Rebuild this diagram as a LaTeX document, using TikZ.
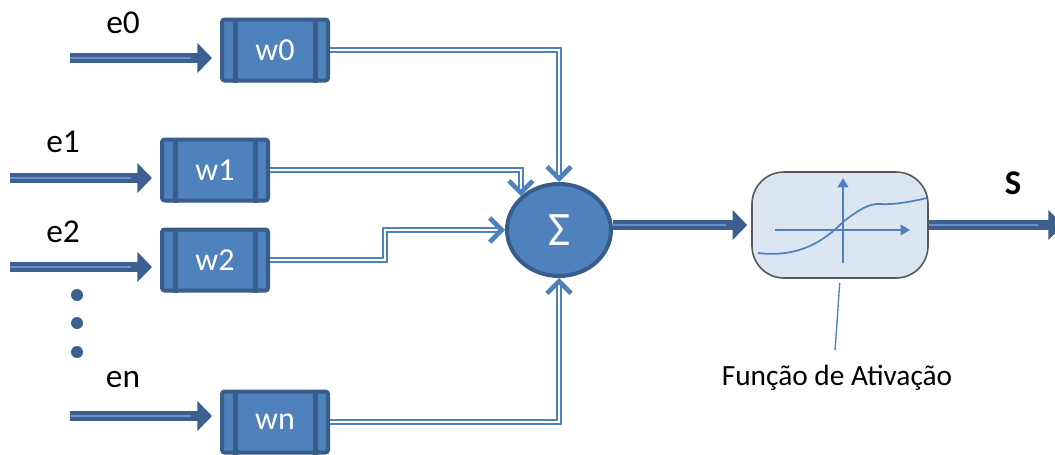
\documentclass[tikz,border=0pt]{standalone}
\usepackage{fontspec}
\setmainfont{Carlito}
\usetikzlibrary{shapes.geometric,arrows.meta,positioning}
\definecolor{boxfill}{HTML}{4F81BD}
\definecolor{boxline}{HTML}{385D8A}
\definecolor{arrowline}{HTML}{3B5F8E}
\definecolor{innerline}{HTML}{6A90C6}
\definecolor{actfill}{HTML}{DCE6F2}
\definecolor{actline}{HTML}{595959}

\begin{document}
\begin{tikzpicture}[x=0.75pt,y=-0.75pt,
	weight/.style={rectangle,rounded corners=2pt,fill=boxfill,draw=boxline,line width=3pt,
		minimum width=79.5pt,minimum height=45.75pt,text=white,font=\fontsize{24}{26}\selectfont},
	label/.style={font=\fontsize{25}{28}\selectfont},
	bigarrow/.style={draw=arrowline,line width=8pt,-{Triangle[length=11pt,width=22pt]}},
	midline/.style={draw=innerline,line width=1.2pt,shorten >=19pt},
	wline/.style={draw=boxfill,double=white,double distance=1.4pt,line width=1.5pt,
		-{Straight Barb[length=9pt,width=18pt,line width=3.5pt]}},
	sumnode/.style={ellipse,fill=boxfill,draw=boxline,line width=3pt,inner sep=0pt,
		minimum width=78pt,minimum height=69pt,text=white,font=\fontsize{36}{38}\selectfont},
	actnode/.style={rectangle,rounded corners=24pt,fill=actfill,draw=actline,line width=1.2pt,
		minimum width=132pt,minimum height=79.5pt},
	curveline/.style={draw=boxfill,line width=1.3pt},
	axisarrow/.style={curveline,-{Triangle[length=7pt,width=8pt]}}]

	\useasboundingbox (0,0) rectangle (1055,454);

	% weights
	\node[weight] (w0) at (275,50) {w0};
	\node[weight] (w1) at (215,170) {w1};
	\node[weight] (w2) at (215,260) {w2};
	\node[weight] (wn) at (275,422) {wn};
	\foreach \b in {w0,w1,w2,wn} {
		\draw[boxline,line width=3.75pt] ([xshift=11.6pt]\b.north west) -- ([xshift=11.6pt]\b.south west);
		\draw[boxline,line width=3.75pt] ([xshift=-10.9pt]\b.north east) -- ([xshift=-10.9pt]\b.south east);
	}

	% inputs
	\node[label] (e0) at (123,23) {e0};
	\node[label] (e1) at (63,142) {e1};
	\node[label] (e2) at (63,232) {e2};
	\node[label] (en) at (123,380) {en};
	\coordinate (s0) at (70,58);
	\coordinate (s1) at (10,178);
	\coordinate (s2) at (10,267);
	\coordinate (sn) at (70,416);
	\draw[bigarrow,shorten >=6pt] (s0) -- (s0 -| w0.west);
	\draw[bigarrow,shorten >=6pt] (s1) -- (s1 -| w1.west);
	\draw[bigarrow,shorten >=6pt] (s2) -- (s2 -| w2.west);
	\draw[bigarrow,shorten >=6pt] (sn) -- (sn -| wn.west);
	\draw[midline,shorten >=22pt] (s0) -- (s0 -| w0.west);
	\draw[midline,shorten >=22pt] (s1) -- (s1 -| w1.west);
	\draw[midline,shorten >=22pt] (s2) -- (s2 -| w2.west);
	\draw[midline,shorten >=22pt] (sn) -- (sn -| wn.west);

	\foreach \y in {295,323,352}
		\fill[arrowline] (77,\y) circle (4.5pt);

	% soma
	\node[sumnode] (sum) at (559,230) {Σ};
	\draw[wline] (w0.east) -| (sum.north);
	\draw[wline] (w1.east) -| (sum.north west);
	\draw[wline] (w2.east) -- ++(115,0) |- (sum.west);
	\draw[wline] (wn.east) -| (sum.south);

	% ativacao
	\node[actnode] (act) at (840,225) {};
	\begin{scope}[shift={(act.center)}]
		\draw[axisarrow] (3,38) -- (3,-47);
		\draw[axisarrow] (-65,5) -- (70,5);
		\draw[curveline] (-82,28) .. controls (-40,33) and (-15,15) .. (3,-3)
			.. controls (18,-15) and (30,-22) .. (40,-21)
			.. controls (52,-20) and (70,-23) .. (87,-27);
	\end{scope}
	\draw[bigarrow,shorten >=3pt] (act.west -| sum.east) -- (act.west);
	\draw[midline] (act.west -| sum.east) -- (act.west);

	\node[label,font=\fontsize{22}{24}\selectfont] (lact) at (837,378) {Função de Ativação};
	\draw[curveline,line width=1pt,shorten <=3pt,shorten >=8pt] (act.south) -- ([xshift=-2pt]lact.north);

	% saida
	\node[label,font=\fontsize{26}{28}\selectfont\bfseries] (S) at (1013,183) {S};
	\coordinate (out) at (1063,225);
	\draw[bigarrow] (act.east) -- (out);
	\draw[midline] (act.east) -- (out);

\end{tikzpicture}
\end{document}
